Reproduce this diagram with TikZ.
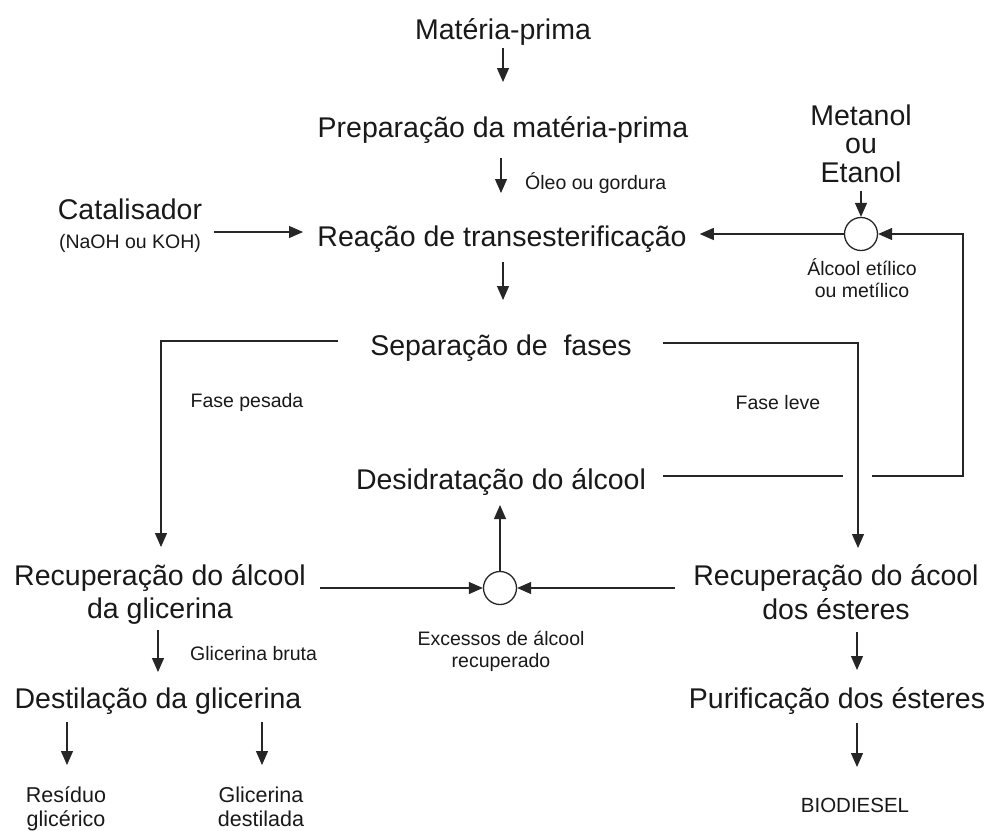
\documentclass[tikz,border=0pt]{standalone}
\usepackage{fontspec}
\setmainfont{Liberation Sans}
\usetikzlibrary{arrows.meta,calc}
\newcommand\mlines[1]{\begin{tabular}[t]{@{}c@{}}#1\end{tabular}}
\begin{document}
\begin{tikzpicture}[x=1pt,y=-1pt,
  ln/.style={draw=black!85, line width=1.2pt},
  arr/.style={ln, -{Triangle[width=12pt,length=14pt]}},
  bigtxt/.style={font=\fontsize{28.5}{33}\selectfont, inner sep=0pt, anchor=base, text=black!90},
  smalltxt/.style={font=\fontsize{19.5}{22}\selectfont, inner sep=0pt, anchor=base, text=black!90},
  midtxt/.style={font=\fontsize{21.5}{24}\selectfont, inner sep=0pt, anchor=base, text=black!90},
  junc/.style={circle, draw=black!85, line width=1.3pt, minimum size=33pt, inner sep=0pt, fill=white}
]
\fill[white] (0,0) rectangle (990,830);
\useasboundingbox (0,0) rectangle (990,830);

% nodes
\node[bigtxt] (mp) at (503,39) {Matéria-prima};
\node[bigtxt] (prep) at (503,137) {Preparação da matéria-prima};
\node[smalltxt, anchor=base west] (oleo) at (525,189) {Óleo ou gordura};
\node[bigtxt] (reac) at (502,246) {Reação de transesterificação};
\node[bigtxt] (cat) at (130,219) {Catalisador};
\node[smalltxt] (naoh) at (130,248) {(NaOH ou KOH)};
\node[bigtxt, font=\fontsize{28.5}{28}\selectfont] (met) at (861,125) {\mlines{Metanol\\ou\\Etanol}};
\node[junc] (c1) at (861,234) {};
\node[smalltxt] (alc) at (862,275) {\mlines{Álcool etílico\\ou metílico}};
\node[bigtxt] (sep) at (501,355) {Separação de\ \ fases};
\node[smalltxt] (fp) at (247,407) {Fase pesada};
\node[smalltxt] (fl) at (778,409) {Fase leve};
\node[bigtxt] (des) at (501,489) {Desidratação do álcool};
\node[junc] (c2) at (500,588) {};
\node[smalltxt] (exc) at (501,645) {\mlines{Excessos de álcool\\recuperado}};
\node[bigtxt] (recg) at (160,585) {\mlines{Recuperação do álcool\\da glicerina}};
\node[bigtxt, font=\fontsize{28.5}{34}\selectfont] (rece) at (836,585) {\mlines{Recuperação do ácool\\dos ésteres}};
\node[smalltxt, anchor=base west] (gb) at (190,660) {Glicerina bruta};
\node[bigtxt] (destg) at (158,708) {Destilação da glicerina};
\node[bigtxt] (pur) at (837,708) {Purificação dos ésteres};
\node[midtxt] (res) at (66,802) {\mlines{Resíduo\\glicérico}};
\node[midtxt] (gd) at (261,802) {\mlines{Glicerina\\destilada}};
\node[midtxt, font=\fontsize{20.5}{24}\selectfont] (bio) at (855,812) {BIODIESEL};

\coordinate (gapL) at (843,476);
\coordinate (gapR) at (872,476);
\coordinate (k1) at (963,476);
\coordinate (k2) at (963,234);

% connectors
\draw[arr] ($(mp.base)+(0,9)$) -- ($(prep.base)+(0,-55)$);
\draw[arr] ($(prep.base)+(-2,21)$) -- ($(reac.base)+(-1,-53)$);
\draw[arr] ($(cat.base)+(84,13)$) -- ($(reac.base)+(-199,-14)$);
\draw[arr] (met.south) -- (c1.north);
\draw[arr] (c1.west) -- ($(reac.east |- c1.west)+(13,0)$);
\draw[arr] (gapR) -- (k1) -- (k2) -- (c1.east);
\draw[ln] ($(des.base)+(162,-13)$) -- (gapL);
\draw[arr] ($(reac.base)+(1,16)$) -- ($(sep.base)+(2,-55)$);
\draw[arr] ($(sep.base)+(-163,-14)$) -| ($(recg.base)+(1,-38)$);
\draw[arr] ($(sep.base)+(162,-12)$) -| ($(rece.base)+(22,-37)$);
\draw[arr] (c2.north) -- ($(des.base)+(-1,16)$);
\draw[arr] ($(recg.base)+(160,3)$) -- (c2.west);
\draw[arr] ($(rece.base)+(-161,3)$) -- (c2.east);
\draw[arr] ($(recg.base)+(-2,45)$) -- ($(destg.base)+(0,-36)$);
\draw[arr] ($(destg.base)+(-91,14)$) -- ($(res.base)+(1,-37)$);
\draw[arr] ($(destg.base)+(104,14)$) -- ($(gd.base)+(1,-37)$);
\draw[arr] ($(rece.base)+(21,47)$) -- ($(pur.base)+(20,-38)$);
\draw[arr] ($(pur.base)+(20,15)$) -- ($(bio.base)+(2,-45)$);
\end{tikzpicture}
\end{document}
